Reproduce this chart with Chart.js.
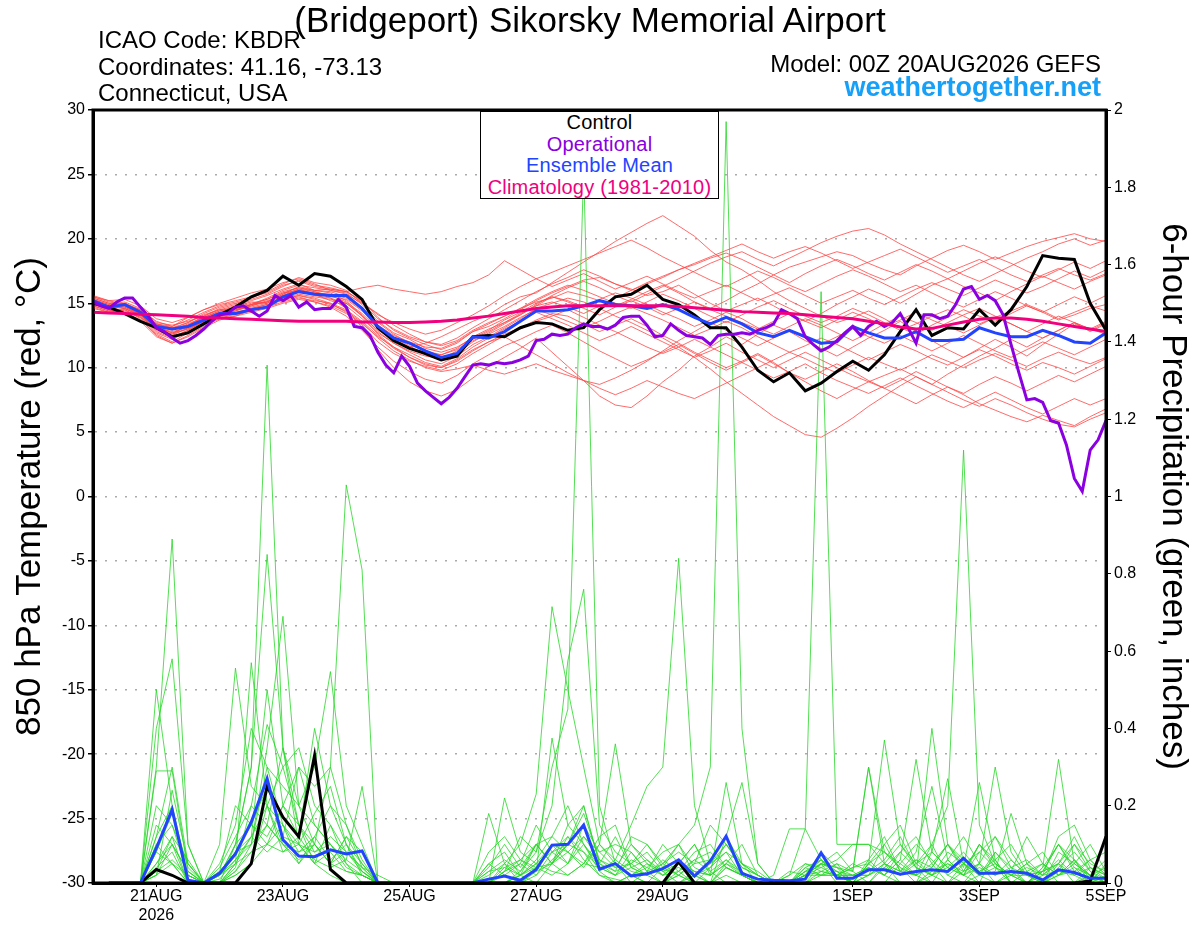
<!DOCTYPE html>
<html>
<head>
<meta charset="utf-8">
<title>KBDR GEFS 850 hPa Temperature and Precipitation</title>
<script src="https://cdn.jsdelivr.net/npm/chart.js@4.4.1/dist/chart.umd.min.js"></script>
<style>
  body { margin: 0; background: #fff; }
  #wrap { position: relative; width: 1200px; height: 927px; font-family: 'Liberation Sans', Arial, Helvetica, sans-serif; }
  #myChart { position: absolute; left: 0; top: 0; }
  .lbl { position: absolute; line-height: 1; white-space: nowrap; color: #000; }
  #title { left: 0; width: 1180px; text-align: center; top: 2px; font-size: 35px; }
  #icao { left: 98px; top: 28px; font-size: 24px; }
  #coords { left: 98px; top: 55px; font-size: 24px; }
  #state { left: 98px; top: 81px; font-size: 24px; }
  #model { right: 99px; top: 52px; font-size: 24px; }
  #site { right: 99px; top: 74px; font-size: 27px; font-weight: bold; color: #16a0f8; }
  #legend { position: absolute; left: 480px; top: 111px; width: 237px; height: 86px; border: 1px solid #000;
            background: #fff; text-align: center; font-size: 20px; line-height: 21.5px; letter-spacing: 0.2px; }
</style>
</head>
<body>
<div id="wrap">
  <canvas id="myChart" width="1200" height="927" style="width:1200px;height:927px"></canvas>
  <div class="lbl" id="title">(Bridgeport) Sikorsky Memorial Airport</div>
  <div class="lbl" id="icao">ICAO Code: KBDR</div>
  <div class="lbl" id="coords">Coordinates: 41.16, -73.13</div>
  <div class="lbl" id="state">Connecticut, USA</div>
  <div class="lbl" id="model">Model: 00Z 20AUG2026 GEFS</div>
  <div class="lbl" id="site">weathertogether.net</div>
  <div id="legend">
    <div style="color:#000">Control</div>
    <div style="color:#8a00e0">Operational</div>
    <div style="color:#2244ff">Ensemble Mean</div>
    <div style="color:#f0007f">Climatology (1981-2010)</div>
  </div>
</div>
<script>
// forecast hours of the x axis ticks and their labels
const tickHours = [24, 72, 120, 168, 216, 288, 336, 384];
const tickLabels = [['21AUG', '2026'], '23AUG', '25AUG', '27AUG', '29AUG', '1SEP', '3SEP', '5SEP'];

// 850 hPa temperature (C), every 6 h from 00Z 20AUG
const controlTemp = [15.0,14.7,14.2,13.6,13.1,12.4,12.7,13.4,14.1,14.7,
  15.5,16.0,17.1,16.4,17.3,17.1,16.3,15.3,13.1,12.1,
  11.5,11.1,10.6,10.9,12.4,12.5,12.4,13.1,13.5,13.4,
  12.9,13.1,14.5,15.5,15.7,16.4,15.3,14.9,14.1,13.1,
  13.1,11.6,9.8,8.9,9.6,8.2,8.8,9.7,10.5,9.8,
  11.0,12.8,14.5,12.5,13.1,13.0,14.5,13.3,14.5,16.3,
  18.7,18.5,18.4,15.0,12.9];

const meanTemp = [15.2,14.7,14.9,14.3,13.2,13.0,13.2,13.7,14.2,14.2,
  14.5,14.7,15.5,15.9,15.7,15.6,15.6,14.6,13.2,12.3,
  11.9,11.3,10.8,11.1,12.4,12.3,12.8,13.6,14.4,14.4,
  14.5,14.8,15.2,14.9,14.8,14.6,14.9,14.5,13.9,13.4,
  13.9,13.4,12.7,12.4,12.9,12.4,11.9,12.0,13.2,12.7,
  12.3,12.3,12.8,12.1,12.1,12.2,13.1,12.7,12.4,12.4,
  12.9,12.5,12.0,11.9,12.7];

const climTemp = [14.3,14.25,14.2,14.15,14.1,14.05,14.0,13.9,13.85,13.8,
  13.75,13.7,13.65,13.6,13.6,13.6,13.6,13.55,13.55,13.5,
  13.5,13.55,13.6,13.7,13.85,14.0,14.2,14.4,14.6,14.7,
  14.8,14.8,14.8,14.8,14.8,14.8,14.8,14.75,14.65,14.55,
  14.45,14.35,14.3,14.25,14.2,14.1,14.0,13.9,13.8,13.6,
  13.4,13.15,13.0,13.05,13.3,13.55,13.75,13.85,13.85,13.75,
  13.6,13.4,13.2,13.0,12.8];

// operational run, every 3 h
const operTemp = [15.1,14.8,14.6,15.1,15.4,15.4,14.7,14.0,13.1,12.8,
  12.3,11.9,12.1,12.5,13.0,13.6,14.1,14.2,14.7,14.8,
  14.4,14.0,14.4,15.6,15.2,15.6,14.7,15.1,14.5,14.6,
  14.6,15.3,14.7,13.2,13.1,12.5,11.2,10.2,9.6,10.9,
  10.1,8.8,8.2,7.7,7.2,7.7,8.4,9.3,10.2,10.3,
  10.2,10.4,10.3,10.4,10.6,10.9,12.1,12.2,12.6,12.5,
  12.6,13.1,13.4,13.2,13.2,13.0,13.3,13.9,14.0,14.0,
  13.3,12.4,12.5,13.4,12.9,12.5,12.4,12.3,11.8,12.5,
  12.6,12.6,12.7,12.6,12.9,13.1,13.4,14.5,14.2,13.8,
  12.4,11.8,11.3,11.6,12.1,12.7,13.2,12.5,13.2,13.6,
  13.2,13.5,14.2,13.1,11.9,14.1,14.1,13.8,14.0,14.9,
  16.1,16.3,15.3,15.6,15.2,14.1,11.8,9.6,7.5,7.6,
  7.3,5.9,5.7,4.0,1.4,0.4,3.6,4.4,5.9];

// ensemble members, 6 h
const memberTemp = [
  [15.4,15.0,14.8,14.1,13.0,12.6,13.3,14.0,14.6,14.9, 15.2,15.6,16.1,16.5,16.0,15.8,15.2,14.0,12.9,12.2,
   11.6,11.9,12.4,13.0,13.6,14.1,14.9,15.5,15.8,16.6, 17.4,18.2,19.0,19.8,20.5,21.2,21.8,21.0,20.2,19.1,
   18.2,17.6,16.8,15.9,15.2,14.6,14.0,13.5,13.9,14.4, 13.8,13.1,12.6,13.3,13.9,14.5,14.0,13.6,14.2,14.8,
   14.3,13.7,14.1,14.6,14.9],
  [15.1,14.6,14.3,13.7,12.6,12.0,12.7,13.5,14.0,14.4, 14.9,15.3,15.8,16.2,15.9,15.4,14.6,13.1,11.4,10.0,
   8.9,8.2,7.8,8.3,9.2,10.1,10.8,11.5,12.3,11.2, 10.1,9.0,7.8,7.1,6.9,7.8,8.9,9.8,10.9,11.6,
   12.4,11.8,12.6,13.3,12.8,12.1,11.5,10.9,11.6,12.3, 12.9,13.6,12.8,12.1,11.4,10.8,11.5,12.2,11.6,10.9,
   11.8,12.6,13.4,12.9,13.5],
  [15.6,15.2,14.9,14.5,13.6,13.2,13.9,14.5,15.0,15.4, 15.8,16.1,16.6,16.9,16.5,16.0,15.7,15.0,14.2,13.3,
   12.6,12.0,11.7,12.1,12.9,13.5,14.0,14.6,15.1,15.4, 15.9,15.6,15.2,14.8,15.3,15.9,16.4,15.8,15.1,14.6,
   15.2,15.9,16.5,17.2,17.8,18.2,18.6,19.0,18.7,18.1, 17.6,17.2,17.9,18.5,19.1,19.5,19.0,18.4,18.9,19.4,
   19.8,20.1,20.4,20.0,19.8],
  [14.8,14.4,14.6,14.0,12.9,12.4,12.9,13.6,14.1,14.3, 14.6,14.9,15.3,15.6,15.4,15.0,14.3,13.4,12.4,11.6,
   10.8,10.2,10.0,10.5,11.3,12.0,12.6,13.1,13.7,14.2, 14.0,13.4,12.8,13.3,13.8,13.2,12.5,11.9,11.2,10.6,
   10.0,10.5,11.1,10.4,9.6,8.9,8.2,7.6,8.3,8.9, 8.4,7.8,7.2,7.9,8.5,7.9,7.2,6.7,6.2,5.8,
   6.3,5.9,5.5,6.2,6.8],
  [15.3,14.9,15.1,14.6,13.5,13.3,13.6,14.0,14.5,14.8, 15.1,15.0,15.7,16.3,16.0,16.1,15.9,15.2,13.9,12.9,
   12.3,11.8,11.4,11.9,12.8,13.2,13.8,14.5,15.2,15.8, 16.3,16.8,17.0,16.5,16.1,15.6,15.9,16.4,15.7,15.0,
   14.4,14.9,15.4,14.8,14.1,13.6,14.2,14.9,15.5,16.1, 15.6,15.0,15.7,16.4,16.9,16.3,15.8,15.2,15.9,16.5,
   17.1,16.6,16.1,16.7,17.2],
  [15.0,14.7,14.4,13.9,13.1,12.8,13.1,13.6,14.0,14.1, 14.4,14.8,15.4,15.7,15.5,15.3,15.0,14.1,12.8,11.9,
   11.2,10.6,10.3,10.9,11.8,12.4,13.1,13.8,14.6,15.0, 15.4,15.1,14.6,14.0,13.5,12.9,12.3,11.6,10.8,9.9,
   8.9,8.0,7.1,6.2,5.5,4.8,4.6,5.3,6.1,7.0, 7.8,8.6,9.3,8.7,9.5,10.2,10.9,11.5,12.2,11.6,
   12.3,12.9,13.5,12.8,13.4],
  [14.9,14.5,14.8,14.2,13.3,12.9,13.4,13.9,14.3,14.6, 14.9,15.4,16.0,16.4,16.2,16.0,15.8,14.9,13.6,12.7,
   12.2,11.5,11.2,11.6,12.3,12.9,13.7,14.3,15.0,15.5, 15.2,14.7,15.3,15.8,15.4,14.9,14.3,13.8,13.2,13.7,
   14.3,13.8,13.1,12.6,13.2,13.8,13.3,12.7,12.1,12.7, 13.4,14.0,13.5,12.9,13.5,14.1,14.6,14.0,13.4,12.8,
   13.4,14.0,13.5,13.0,13.6],
  [15.2,14.8,15.0,14.4,13.4,13.0,13.5,14.2,14.7,15.0, 15.3,15.7,16.3,16.8,16.4,16.2,15.9,15.1,14.1,13.5,
   13.0,12.6,12.9,13.5,14.1,14.8,15.6,16.3,16.9,17.4, 17.9,18.4,18.9,19.4,19.9,19.3,18.6,18.0,17.4,16.8,
   16.3,16.9,17.5,17.0,16.4,15.9,16.5,17.1,17.6,17.1, 16.5,15.9,16.4,15.8,15.2,14.7,15.3,15.9,15.4,14.8,
   14.3,14.9,15.5,15.0,15.6],
  [14.7,14.3,14.5,13.8,12.5,11.9,12.5,13.2,13.8,14.2, 14.6,14.9,15.2,15.5,15.1,14.7,14.0,12.9,11.6,10.5,
   9.7,9.1,8.8,9.4,10.3,11.0,11.7,12.2,12.8,13.3, 12.7,12.0,11.3,10.7,10.1,10.6,11.2,11.8,11.1,10.4,
   9.8,10.4,11.0,10.3,9.6,9.1,9.7,10.3,9.7,9.0, 8.4,9.0,9.7,9.1,8.5,8.0,8.7,9.3,8.8,8.2,
   8.8,9.4,8.9,9.5,10.1],
  [15.5,15.1,14.9,14.3,13.2,12.7,13.2,13.9,14.4,14.7, 15.0,15.3,15.9,16.2,16.0,15.9,15.5,14.6,13.5,12.6,
   11.9,11.3,11.0,11.5,12.4,13.0,13.5,14.2,14.8,15.1, 14.7,14.2,14.8,15.4,16.0,16.6,17.1,17.6,18.0,18.5,
   18.9,18.4,17.8,17.2,16.6,17.3,17.9,18.4,17.9,17.3, 16.8,17.4,18.0,17.5,16.9,17.5,18.1,18.6,18.1,17.5,
   17.0,17.6,18.2,17.7,18.3],
  [15.0,14.6,14.7,14.2,13.1,12.7,13.0,13.7,14.3,14.5, 14.8,15.1,15.6,16.0,15.8,15.5,15.3,14.4,13.1,12.3,
   11.7,11.0,10.6,11.1,12.0,12.7,13.4,14.1,14.9,15.6, 16.2,16.7,16.2,15.6,15.1,15.7,16.3,16.9,17.5,18.1,
   18.6,19.0,18.4,17.9,18.5,19.1,19.7,20.2,20.6,20.8, 20.3,19.6,19.0,18.4,17.8,17.2,16.7,17.3,17.9,18.5,
   19.0,19.6,20.0,19.5,19.9],
  [15.3,14.9,14.6,14.0,12.8,12.3,12.9,13.6,14.1,14.4, 14.8,15.2,15.6,16.1,15.7,15.2,14.8,13.8,12.7,11.9,
   11.3,10.9,10.7,11.3,12.1,12.6,13.2,13.9,14.5,14.1, 13.6,13.1,13.6,14.2,14.7,14.2,13.7,13.1,12.5,13.0,
   13.6,13.1,12.4,11.8,11.2,11.7,12.3,11.8,11.2,10.6, 11.2,11.8,11.3,10.7,10.2,10.8,11.4,10.9,10.3,9.8,
   10.4,10.0,9.5,10.1,10.7],
  [14.6,14.3,14.5,13.9,12.7,12.2,12.8,13.5,13.9,14.0, 14.3,14.6,15.0,15.3,15.1,14.8,14.2,13.3,12.0,11.1,
   10.5,10.1,9.8,10.3,11.1,11.8,12.5,13.0,13.6,14.0, 14.5,13.9,13.3,12.8,12.2,11.6,11.1,11.6,12.2,11.6,
   11.0,10.4,9.8,9.2,9.7,10.3,9.6,9.0,8.5,8.0, 8.6,9.2,8.6,8.0,7.4,6.9,7.5,8.1,7.5,6.9,
   6.4,7.0,7.6,7.1,7.6],
  [15.2,14.8,14.9,14.3,13.3,13.1,13.5,14.1,14.5,14.6, 14.9,15.1,15.8,16.0,15.8,15.7,15.4,14.5,13.3,12.5,
   12.0,11.6,11.5,12.0,12.8,13.4,14.0,14.6,15.3,15.9, 16.4,16.0,15.5,15.0,14.6,15.1,15.7,15.2,14.6,14.0,
   13.5,14.1,14.7,15.2,14.6,14.0,13.5,14.0,14.6,14.1, 13.5,12.9,13.4,14.0,14.5,14.0,13.4,13.9,14.4,14.9,
   14.4,13.8,14.3,14.8,14.4],
  [15.5,15.2,15.3,14.8,13.8,13.5,13.9,14.5,14.9,15.2, 15.5,15.8,16.4,16.7,16.3,16.1,15.9,16.2,16.4,16.1,
   15.9,15.7,15.9,16.3,16.6,17.2,18.3,17.6,16.9,16.3, 16.8,17.3,16.7,16.1,16.6,17.1,16.5,15.9,15.4,15.9,
   16.4,15.8,15.2,15.7,16.2,15.6,15.0,15.5,16.0,15.4, 14.9,15.5,16.1,16.6,16.1,15.6,16.2,16.8,16.3,15.8,
   16.3,16.9,17.5,17.0,17.6],
  [14.9,14.5,14.2,13.6,12.4,11.9,12.4,13.1,13.7,14.0, 14.5,14.8,15.3,15.6,15.3,14.9,14.4,13.5,12.3,11.3,
   10.6,10.0,9.7,9.9,10.2,9.8,9.5,9.9,10.3,9.8, 9.4,9.0,8.7,9.2,9.8,10.5,11.3,12.1,12.8,13.5,
   12.9,12.3,11.7,12.3,12.9,12.4,11.8,12.4,13.0,12.4, 11.9,12.5,11.9,11.3,11.9,12.5,11.9,11.3,10.8,11.4,
   12.0,11.5,11.0,11.6,12.2],
  [15.1,14.7,15.0,14.5,13.4,13.1,13.3,13.9,14.4,14.5, 14.9,15.1,15.7,16.1,15.9,15.6,15.1,14.2,13.0,12.1,
   11.5,11.2,11.0,11.4,12.2,12.8,13.5,14.1,14.8,15.5, 15.1,14.6,14.1,14.7,15.2,14.7,14.1,14.6,15.1,14.5,
   14.0,13.5,13.0,13.6,14.2,13.6,13.1,13.7,14.3,13.8, 13.2,13.7,14.3,13.7,13.2,12.7,13.3,13.9,13.4,12.8,
   12.3,12.9,13.5,13.0,12.6],
  [15.4,15.0,14.7,14.1,13.0,12.5,13.1,13.8,14.2,14.5, 14.7,15.0,15.5,15.9,15.6,15.4,15.0,14.0,12.6,11.6,
   11.0,10.4,10.1,10.7,11.6,12.3,13.0,13.6,14.3,13.8, 13.3,12.7,12.1,12.6,13.2,12.6,12.0,11.4,10.8,11.3,
   11.9,11.2,10.6,10.0,10.6,11.2,10.6,10.0,9.4,8.9, 9.4,9.9,9.3,8.7,8.1,7.5,7.0,7.6,7.1,6.5,
   6.0,5.6,5.4,6.0,6.5],
  [15.0,14.6,14.9,14.4,13.4,13.2,13.7,14.3,14.8,15.1, 15.4,15.9,16.5,17.0,16.6,16.4,16.0,15.0,13.8,13.0,
   12.4,12.0,11.8,12.3,13.1,13.8,14.5,15.2,15.9,16.5, 17.0,17.6,17.1,16.5,16.0,16.5,17.0,17.6,18.1,18.6,
   19.1,19.6,19.0,18.5,19.0,19.4,18.9,18.3,17.7,18.2, 18.7,19.2,18.6,18.0,17.4,17.9,18.4,17.8,17.2,16.7,
   17.2,17.7,17.2,16.8,17.3],
  [14.8,14.4,14.6,14.1,13.0,12.6,13.0,13.6,14.0,14.2, 14.5,14.7,15.1,15.4,15.2,15.0,14.5,13.6,12.5,11.5,
   10.8,10.3,10.0,10.6,11.4,12.0,12.4,11.7,11.0,10.3, 9.6,9.0,8.4,7.9,8.4,9.0,8.5,8.0,7.6,8.2,
   8.8,9.4,10.0,10.6,11.2,10.7,10.1,9.6,10.2,10.8, 10.3,9.8,10.4,11.0,10.5,10.0,10.6,11.1,10.6,10.1,
   10.7,11.2,10.7,10.3,10.8]
];

// 6-hour precipitation (inches), ending at hours 6, 12, ... 384
const controlPrecip = [0,0,0,0.035,0.02,0,0,0,0,0.05,0.25,0.17,0.12,0.33,0.035,0,
  0,0,0,0,0,0,0,0,0,0,0,0,0,0,0,0,
  0,0,0,0,0.055,0,0,0,0,0,0,0,0,0,0,0,
  0,0,0,0,0,0,0,0,0,0,0,0,0,0,0.005,0.12];

const meanPrecip = [0,0,0,0.09,0.19,0.007,0,0.025,0.075,0.158,0.27,0.112,0.07,0.068,0.086,0.075,
  0.083,0,0,0,0,0,0,0,0.01,0.018,0.007,0.035,0.098,0.1,0.15,0.036,
  0.05,0.018,0.024,0.037,0.06,0.018,0.057,0.121,0.025,0.01,0.007,0.006,0.01,0.078,0.012,0.012,
  0.034,0.034,0.023,0.03,0.034,0.03,0.064,0.025,0.025,0.03,0.025,0.008,0.034,0.027,0.012,0.012];

const memberPrecip = [
  [0,0,0,0.05,0.12,0,0,0.02,0.1,0.3,1.34,0.35,0.1,0.05,0.02,0,
   0,0,0,0,0,0,0,0,0,0.03,0.05,0.02,0.08,0.12,0.06,0.02,
   0.01,0,0,0,0.03,0,0,0.05,0.02,0,0,0,0,0.03,0.02,0,
   0,0.05,0.1,0.04,0,0,0,0.02,0.08,0.03,0,0,0.02,0.06,0.01,0],
  [0,0,0,0.3,0.89,0.1,0,0,0.05,0.12,0.2,0.15,0.08,0.1,0.05,0.03,
   0.02,0,0,0,0,0,0,0,0.05,0.02,0,0.04,0.1,0.05,0.15,0.03,
   0,0.02,0,0.04,0.1,0.02,0,0.12,0.26,0.05,0,0,0.02,0.05,0,0,
   0.05,0.02,0,0,0.08,0.27,0.05,0,0,0.03,0.12,0.05,0,0,0.04,0.02],
  [0,0,0,0.08,0.05,0,0,0.03,0.08,0.15,0.12,0.2,0.3,0.25,0.3,1.03,
   0.81,0,0,0,0,0,0,0,0,0,0.02,0.05,0.03,0.02,0.05,0.1,
   0.05,0.02,0,0,0.02,0.06,0.03,0,0,0,0,0.02,0.14,0.06,0.02,0,
   0,0.04,0.08,0.12,0.05,0,0.03,0.1,0.06,0,0,0.02,0.05,0.1,0.03,0.01],
  [0,0,0,0.02,0.24,0.05,0,0,0.03,0.08,0.15,0.1,0.05,0.12,0.06,0.1,
   0.02,0,0,0,0,0,0,0,0,0,0.03,0.08,0.3,0.45,1.85,0.2,
   0.05,0,0.03,0,0.02,0,0,0.04,0.02,0,0,0,0,0.05,0.08,0.03,
   0,0,0.05,0.02,0,0.06,0.12,0.05,0,0,0,0.04,0.1,0.03,0,0],
  [0,0,0,0.1,0.15,0.02,0,0,0.02,0.05,0.2,0.08,0.1,0.05,0.15,0.05,
   0,0,0,0,0,0,0,0,0,0.05,0.02,0.1,0.05,0.15,0.2,0.05,
   0.12,0.04,0.02,0.05,0.1,0.15,0.3,1.97,0.4,0.05,0,0,0.02,0.06,0.03,0,
   0.02,0.05,0,0,0.03,0.05,0.02,0,0.08,0.04,0,0,0.03,0.02,0,0],
  [0,0,0,0.04,0.08,0,0,0.04,0.12,0.2,0.41,0.3,0.15,0.08,0.1,0.05,
   0.02,0,0,0,0,0,0,0,0,0,0,0.03,0.05,0.08,0.12,0.06,
   0.03,0.05,0.02,0,0,0.03,0,0.02,0,0,0.02,0.14,0.14,1.53,0.1,0.1,
   0.1,0.08,0.04,0,0.02,0.05,0.03,0.1,0.04,0,0,0.03,0.05,0,0.02,0],
  [0,0,0,0.12,0.3,0.05,0,0.02,0.06,0.1,0.35,0.69,0.2,0.1,0.05,0.08,
   0.03,0,0,0,0,0,0,0,0.18,0.05,0,0.02,0.06,0.1,0.08,0.02,
   0,0.02,0.05,0.03,0,0.02,0.04,0.08,0.02,0,0,0,0.03,0.06,0.02,0.04,
   0.05,0.1,0.03,0.02,0.1,0.2,1.12,0.15,0.05,0.02,0,0.03,0.1,0.04,0,0.02],
  [0,0,0,0.5,0.2,0,0,0.02,0.1,0.15,0.25,0.12,0.3,0.15,0.1,0.06,
   0.25,0,0,0,0,0,0,0,0,0.22,0.08,0.05,0.1,0.08,0.04,0.1,
   0.06,0.15,0.25,0.3,0.84,0.2,0.05,0.1,0.04,0.02,0,0,0.02,0.05,0.04,0.03,
   0.3,0.05,0.02,0.05,0.1,0.02,0,0.05,0.12,0.06,0.02,0,0.04,0.08,0.03,0],
  [0,0,0,0.02,0.1,0.03,0,0,0.05,0.57,0.2,0.1,0.08,0.12,0.2,0.1,
   0.05,0,0,0,0,0,0,0,0.02,0.05,0.1,0.23,0.715,0.5,0.3,0.1,
   0.36,0.1,0.05,0.02,0.05,0.1,0.03,0.06,0.02,0,0,0,0.02,0.08,0.04,0,
   0.05,0.37,0.1,0.05,0.02,0,0.05,0.02,0.03,0.18,0.05,0,0.02,0.05,0.1,0.03],
  [0,0,0,0.4,0.58,0.1,0,0.03,0.08,0.12,0.5,0.2,0.15,0.1,0.05,0.12,
   0.08,0,0,0,0,0,0,0,0,0.03,0.12,0.08,0.2,0.575,0.76,0.15,
   0.08,0.05,0.1,0.04,0.06,0.03,0.02,0.05,0.03,0,0,0,0.05,0.04,0.02,0.02,
   0.04,0.02,0.06,0.32,0.08,0.04,0.02,0.05,0.3,0.08,0.02,0,0.05,0.12,0.04,0.01],
  [0,0,0,0.29,0.29,0.03,0,0,0.1,0.3,0.85,0.35,0.2,0.15,0.1,0.04,
   0.02,0,0,0,0,0,0,0,0.05,0.08,0.02,0,0.05,0.1,0.2,0.05,
   0.02,0.08,0.03,0.1,0.05,0.02,0,0.04,0.02,0,0,0.03,0.02,0.05,0.03,0,
   0.02,0.05,0.03,0.02,0.4,0.1,0.05,0.02,0,0.02,0.05,0.08,0.02,0.03,0.06,0.02],
  [0,0,0,0.15,0.1,0,0,0.1,0.556,0.25,0.2,0.3,0.35,0.2,0.15,0.08,
   0.04,0,0,0,0,0,0,0,0,0.04,0.06,0.03,0.375,0.15,0.1,0.04,
   0.05,0.02,0.04,0.08,0.1,0.04,0.02,0.26,0.05,0,0,0,0.02,0.03,0.05,0,
   0.05,0.08,0.04,0.02,0.05,0.1,0.04,0.26,0.06,0,0.03,0.05,0.02,0.06,0.02,0],
  [0,0,0,0.03,0.06,0.02,0,0,0.03,0.1,0.3,0.25,0.2,0.3,0.547,0.2,
   0.1,0,0,0,0,0,0,0,0.04,0.1,0.04,0.1,0.05,0.1,0.15,0.08,
   0.1,0.08,0.03,0.05,0.02,0,0.04,0.1,0.05,0.02,0,0.02,0.05,0.03,0.02,0.02,
   0.02,0.1,0.15,0.05,0.08,0.04,0.02,0.1,0.05,0.02,0,0.04,0.32,0.05,0.02,0.04],
  [0,0,0,0.2,0.15,0.05,0,0.05,0.15,0.4,0.3,0.15,0.1,0.18,0.25,0.1,
   0.03,0,0,0,0,0,0,0,0.03,0.06,0.03,0.1,0.12,0.2,0.1,0.05,
   0.03,0.12,0.1,0.05,0.08,0.05,0.06,0.12,0.05,0.03,0,0,0.02,0.02,0.05,0.03,
   0.3,0.08,0.05,0.1,0.06,0.02,0.05,0.08,0.12,0.04,0.02,0.03,0.05,0.02,0.06,0.08],
  [0,0,0,0.08,0.18,0.04,0,0.03,0.2,0.15,0.1,0.2,0.12,0.4,0.2,0.15,
   0.06,0,0,0,0,0,0,0,0,0.02,0.05,0.15,0.08,0.1,0.18,0.06,
   0.04,0.05,0.08,0.03,0.05,0.1,0.02,0.06,0.03,0,0,0,0.04,0.06,0.02,0.05,
   0.03,0.06,0.12,0.04,0.02,0.08,0.05,0.03,0.06,0.1,0.03,0,0.08,0.05,0.02,0.01],
  [0,0,0,0.12,0.2,0.02,0,0,0.04,0.2,0.15,0.35,0.15,0.05,0.08,0.03,
   0.02,0,0,0,0,0,0,0,0,0,0.02,0.06,0.12,0.08,0.05,0.12,
   0.15,0.04,0.02,0.06,0.03,0.08,0.1,0.04,0.02,0,0,0,0.03,0.02,0.02,0,
   0.06,0.12,0.03,0.08,0.25,0.06,0.02,0.04,0.02,0.06,0.02,0.03,0.1,0.06,0,0.05],
  [0,0,0,0.05,0.1,0.03,0,0.02,0.08,0.1,0.15,0.1,0.06,0.1,0.05,0.12,
   0.05,0,0,0,0,0,0,0,0.08,0.12,0.06,0.04,0.02,0.05,0.1,0.03,
   0.06,0.03,0.02,0.04,0.02,0.05,0.15,0.1,0.04,0.02,0,0,0.02,0.04,0.06,0.1,
   0.1,0.05,0.03,0.06,0.04,0.1,0.06,0.02,0.04,0.02,0.05,0.02,0.03,0.1,0.05,0.03],
  [0,0,0,0.02,0.05,0,0,0.02,0.05,0.08,0.1,0.15,0.05,0.1,0.3,0.15,
   0.04,0,0,0,0,0,0,0,0,0,0.02,0.04,0.05,0.02,0.05,0.04,
   0.02,0.04,0.06,0.02,0.05,0.03,0.02,0.05,0.1,0.02,0,0,0,0.02,0.03,0.02,
   0.04,0.02,0.06,0.02,0.04,0.1,0.03,0.05,0.02,0.04,0.06,0.02,0.12,0.15,0.06,0.02],
  [0,0,0,0.1,0.05,0.02,0,0,0.02,0.05,0.1,0.08,0.12,0.06,0.04,0.06,
   0.03,0,0,0,0,0,0,0,0,0.03,0.06,0.1,0.05,0.12,0.08,0.04,
   0.02,0.06,0.04,0.02,0.03,0.06,0.08,0.04,0.02,0,0,0,0.04,0.02,0.02,0.04,
   0.06,0.02,0.08,0.04,0.02,0.06,0.02,0.08,0.04,0.02,0.02,0.05,0.02,0.04,0.02,0.06],
  [0,0,0,0.03,0.12,0.06,0,0.01,0.06,0.12,0.08,0.12,0.1,0.08,0.12,0.08,
   0.04,0.02,0,0,0,0,0,0,0.03,0.04,0.02,0.05,0.08,0.05,0.12,0.08,
   0.04,0.1,0.06,0.03,0.04,0.02,0.05,0.08,0.05,0.02,0,0,0.03,0.05,0.04,0.02,
   0.02,0.04,0.02,0.06,0.02,0.04,0.08,0.03,0.05,0.02,0.04,0.02,0.06,0.02,0.04,0.02]
];

// turn a value list into {x: forecast hour, y} points
function toPoints(values, step, firstHour) {
    return values.map((v, i) => ({x: firstHour + i * step, y: v}));
}

function lineSet(values, step, firstHour, color, width, axis, order) {
    return {
        data: toPoints(values, step, firstHour),
        borderColor: color,
        borderWidth: width,
        yAxisID: axis,
        order: order,
        pointRadius: 0,
        tension: 0,
        fill: false
    };
}

const datasets = [];
// lower order is drawn on top
datasets.push(lineSet(climTemp, 6, 0, '#f0007f', 3, 'y', 1));
datasets.push(lineSet(operTemp, 3, 0, '#8a00e0', 3, 'y', 2));
datasets.push(lineSet(meanTemp, 6, 0, '#2244ff', 3, 'y', 3));
datasets.push(lineSet(controlTemp, 6, 0, '#000000', 3, 'y', 4));
datasets.push(lineSet(meanPrecip, 6, 6, '#2244ff', 3, 'y1', 5));
datasets.push(lineSet(controlPrecip, 6, 6, '#000000', 3, 'y1', 6));
memberPrecip.forEach(m => datasets.push(lineSet(m, 6, 6, 'rgba(40,215,40,0.8)', 1, 'y1', 7)));
memberTemp.forEach(m => datasets.push(lineSet(m, 6, 0, 'rgba(255,70,70,0.8)', 1, 'y', 8)));

// thick black box round the plot area
const frame = {
    id: 'frame',
    afterDraw(chart) {
        const {ctx, chartArea: a} = chart;
        ctx.save();
        ctx.strokeStyle = '#000';
        ctx.lineWidth = 3;
        ctx.strokeRect(a.left, a.top, a.right - a.left, a.bottom - a.top);
        ctx.restore();
    }
};

Chart.defaults.font.family = "'Liberation Sans', Arial, Helvetica, sans-serif";
Chart.defaults.color = '#000';

const ctx = document.getElementById('myChart').getContext('2d');
const chart = new Chart(ctx, {
    type: 'line',
    data: {datasets: datasets},
    plugins: [frame],
    options: {
        responsive: false,
        animation: false,
        devicePixelRatio: 1,
        events: [],
        layout: {padding: {top: 110, left: 0, right: 0, bottom: 0}},
        plugins: {legend: {display: false}, tooltip: {enabled: false}},
        scales: {
            x: {
                type: 'linear',
                min: 0,
                max: 384,
                afterBuildTicks: s => { s.ticks = tickHours.map(h => ({value: h})); },
                afterFit: s => { s.height = 44; },
                ticks: {
                    autoSkip: false,
                    maxRotation: 0,
                    padding: 0,
                    font: {size: 16},
                    callback: (v) => tickLabels[tickHours.indexOf(v)]
                },
                grid: {drawOnChartArea: false, drawTicks: true, tickLength: 4, tickColor: '#000'},
                border: {display: true, color: '#000', width: 3}
            },
            y: {
                position: 'left',
                min: -30,
                max: 30,
                afterFit: s => { s.width = 93; },
                ticks: {stepSize: 5, padding: 3, font: {size: 16}},
                grid: {color: '#aaaaaa', lineWidth: 1.5, drawTicks: true, tickLength: 5, tickColor: '#000'},
                border: {display: true, color: '#000', width: 3, dash: [2, 8]},
                title: {
                    display: true,
                    text: '850 hPa Temperature (red, \u00B0C)',
                    font: {size: 35},
                    padding: {top: 9, bottom: 0}
                }
            },
            y1: {
                position: 'right',
                min: 0,
                max: 2,
                afterFit: s => { s.width = 94; },
                ticks: {stepSize: 0.2, padding: 3, font: {size: 16}, callback: v => String(Number(v.toFixed(1)))},
                grid: {drawOnChartArea: false, drawTicks: true, tickLength: 5, tickColor: '#000'},
                border: {display: true, color: '#000', width: 3},
                title: {
                    display: true,
                    text: '6-hour Precipitation (green, inches)',
                    font: {size: 35},
                    padding: {top: 6, bottom: 0}
                }
            }
        }
    }
});
</script>
</body>
</html>
